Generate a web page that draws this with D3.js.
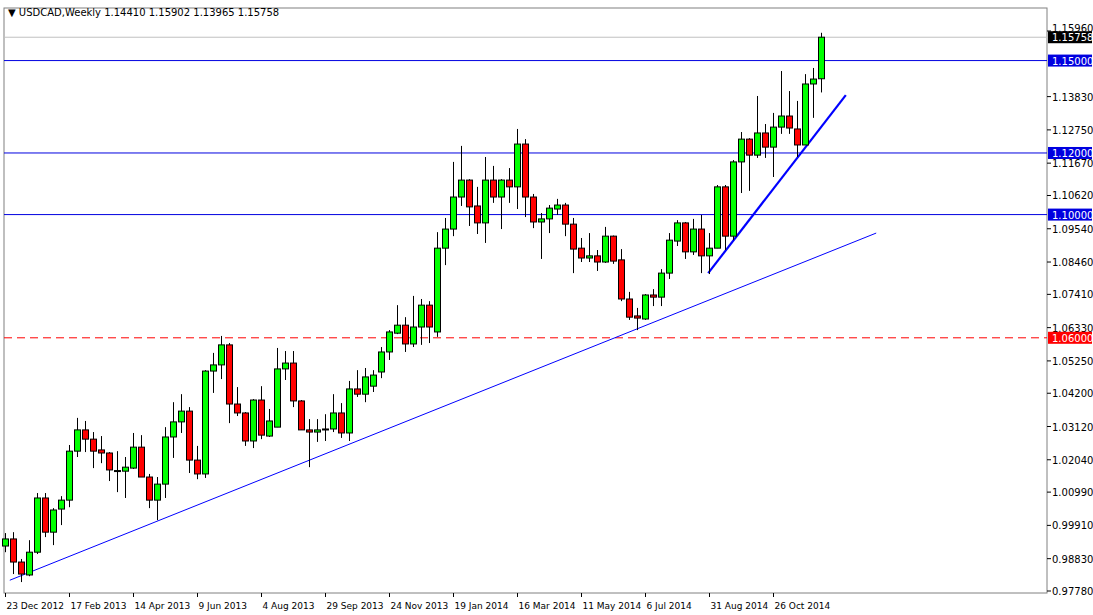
<!DOCTYPE html>
<html><head><meta charset="utf-8">
<script src="https://cdn.jsdelivr.net/npm/d3@7"></script>
<style>body{margin:0;background:#fff}svg{display:block}text{font-family:Tahoma,"DejaVu Sans",sans-serif;font-size:10px}text.d{font-size:9px}</style>
</head><body><svg id="c" width="1093" height="615"></svg>
<script>
const opens=[.9924,.9947,.9872,.9830,.9904,1.0080,.9969,1.0044,1.0073,1.0232,1.0301,1.0271,1.0236,1.0226,1.0166,1.0167,1.0177,1.0245,1.0148,1.0073,1.0125,1.0278,1.0327,1.0362,1.0203,1.0158,1.0492,1.0512,1.0577,1.0385,1.0356,1.0265,1.0398,1.0281,1.0310,1.0499,1.0518,1.0395,1.0301,1.0294,1.0304,1.0304,1.0356,1.0291,1.0434,1.0417,1.0443,1.0489,1.0554,1.0615,1.0641,1.0580,1.0635,1.0706,1.0619,1.0891,1.0953,1.1057,1.1112,1.1028,1.0973,1.1112,1.1057,1.1112,1.1090,1.1229,1.1057,1.0976,1.0986,1.1018,1.1031,1.0969,1.0891,1.0859,1.0866,1.0846,1.0930,1.0853,1.0726,1.0671,1.0661,1.0739,1.0732,1.0810,1.0914,1.0973,1.0879,1.0953,1.0866,1.0891,1.1090,1.0930,1.1171,1.1245,1.1193,1.1265,1.1219,1.1284,1.1320,1.1278,1.1226,1.1424,1.1441];
const highs=[.9966,.9969,.9882,.9943,1.0096,1.0096,1.0047,1.0086,1.0252,1.0340,1.0330,1.0294,1.0281,1.0229,1.0232,1.0213,1.0291,1.0284,1.0158,1.0148,1.0310,1.0391,1.0417,1.0375,1.0249,1.0495,1.0551,1.0606,1.0583,1.0440,1.0359,1.0401,1.0443,1.0369,1.0567,1.0557,1.0557,1.0398,1.0336,1.0336,1.0352,1.0417,1.0388,1.0460,1.0495,1.0502,1.0495,1.0570,1.0625,1.0706,1.0667,1.0736,1.0726,1.0719,1.0943,1.0989,1.1171,1.1223,1.1115,1.1090,1.1187,1.1158,1.1115,1.1151,1.1278,1.1245,1.1067,1.1005,1.1031,1.1051,1.1038,1.0989,1.0924,1.0940,1.0885,1.0960,1.0932,1.0888,1.0749,1.0697,1.0742,1.0758,1.0823,1.0940,1.0982,1.0976,1.0986,1.0999,1.0940,1.1096,1.1096,1.1177,1.1268,1.1248,1.1385,1.1294,1.1330,1.1466,1.1401,1.1369,1.1456,1.1476,1.15902];
const lows=[.9904,.9833,.9807,.9826,.9898,.9953,.9927,.9992,1.0050,1.0213,1.0229,1.0177,1.0193,1.0135,1.0099,1.0080,1.0174,1.0148,1.0047,1.0008,1.0080,1.0210,1.0291,1.0161,1.0141,1.0145,1.0421,1.0466,1.0323,1.0346,1.0249,1.0242,1.0271,1.0278,1.0310,1.0463,1.0375,1.0301,1.0180,1.0262,1.0265,1.0294,1.0275,1.0265,1.0408,1.0391,1.0424,1.0469,1.0528,1.0612,1.0554,1.0570,1.0577,1.0583,1.0603,1.0836,1.0930,1.1028,1.0963,1.0937,1.0908,1.1038,1.0953,1.1038,1.1018,1.0992,1.0956,1.0856,1.0940,1.0999,1.0930,1.0810,1.0846,1.0846,1.0817,1.0843,1.0840,1.0719,1.0658,1.0625,1.0658,1.0703,1.0703,1.0791,1.0898,1.0856,1.0869,1.0810,1.0807,1.0891,1.0885,1.0917,1.1070,1.1077,1.1184,1.1184,1.1122,1.1262,1.1262,1.1187,1.1226,1.1314,1.13965];
const closes=[.9947,.9872,.9833,.9904,1.0080,.9969,1.0041,1.0073,1.0232,1.0301,1.0271,1.0232,1.0226,1.0171,1.0169,1.0180,1.0245,1.0148,1.0073,1.0125,1.0278,1.0327,1.0362,1.0203,1.0158,1.0492,1.0512,1.0577,1.0385,1.0356,1.0265,1.0398,1.0284,1.0330,1.0499,1.0518,1.0395,1.0301,1.0294,1.0301,1.0301,1.0356,1.0291,1.0434,1.0417,1.0473,1.0479,1.0554,1.0619,1.0641,1.0580,1.0635,1.0706,1.0635,1.0891,1.0953,1.1057,1.1112,1.1025,1.0973,1.1112,1.1057,1.1112,1.1090,1.1229,1.1057,1.0976,1.0986,1.1021,1.1031,1.0969,1.0888,1.0859,1.0866,1.0846,1.0930,1.0849,1.0726,1.0667,1.0664,1.0739,1.0732,1.0810,1.0917,1.0973,1.0879,1.0953,1.0866,1.0891,1.1090,1.0930,1.1171,1.1245,1.1193,1.1265,1.1219,1.1284,1.1320,1.1281,1.1226,1.1424,1.1440,1.15758];
const dateLabels=["23 Dec 2012","17 Feb 2013","14 Apr 2013","9 Jun 2013","4 Aug 2013","29 Sep 2013","24 Nov 2013","19 Jan 2014","16 Mar 2014","11 May 2014","6 Jul 2014","31 Aug 2014","26 Oct 2014"];
const dateIdx=[0,8,16,24,32,40,48,56,64,72,80,88,96];
const priceTicks=[1.1596,1.1383,1.1275,1.1167,1.1062,1.0954,1.0846,1.0741,1.0633,1.0525,1.0420,1.0312,1.0204,1.0099,0.9991,0.9883,0.9778];
const levels=[{p:1.15,c:"#0000e0",dash:null},{p:1.12,c:"#0000e0",dash:null},{p:1.10,c:"#0000e0",dash:null},{p:1.06,c:"#ff0000",dash:"8,5"}];
const trendLines=[{a:[0.6,0.9813],b:[108.9,1.0940],w:1},{a:[87.9,1.0810],b:[105.1,1.1388],w:2.2}];
const lastPrice=1.15758;

const svg=d3.select("#c");
const L=4,R=1047,T=8,B=593;
const x=d3.scaleLinear().domain([0,102]).range([5,821]);
const y=d3.scaleLinear().domain([0.9778,1.1596]).range([591,31]);
const fmt=d3.format(".5f");

svg.append("rect").attr("x",L).attr("y",T).attr("width",R-L).attr("height",B-T).attr("fill","#fff").attr("stroke","#808080");

svg.append("line").attr("x1",L).attr("x2",R).attr("y1",y(lastPrice)).attr("y2",y(lastPrice)).attr("stroke","#c0c0c0");
levels.forEach(l=>{svg.append("line").attr("x1",L).attr("x2",R).attr("y1",y(l.p)).attr("y2",y(l.p)).attr("stroke",l.c).attr("stroke-dasharray",l.dash);});

trendLines.forEach(t=>svg.append("line").attr("x1",x(t.a[0])).attr("y1",y(t.a[1])).attr("x2",x(t.b[0])).attr("y2",y(t.b[1])).attr("stroke","#0000ff").attr("stroke-width",t.w));

const data=opens.map((o,i)=>({i,o,h:highs[i],l:lows[i],c:closes[i]}));
const g=svg.append("g");
g.selectAll("line.w").data(data).join("line").attr("x1",d=>Math.round(x(d.i))+0.5).attr("x2",d=>Math.round(x(d.i))+0.5).attr("y1",d=>y(d.h)).attr("y2",d=>y(d.l)).attr("stroke","#000");
g.selectAll("rect").data(data).join("rect").attr("x",d=>Math.round(x(d.i))-2.5).attr("width",6)
 .attr("y",d=>y(Math.max(d.o,d.c))).attr("height",d=>Math.max(1,Math.abs(y(d.o)-y(d.c))))
 .attr("fill",d=>d.c>=d.o?"#00ff00":"#ff0000").attr("stroke","#000");

const ax=svg.append("g");
priceTicks.forEach((p,k)=>{ax.append("line").attr("x1",R).attr("x2",R+4).attr("y1",y(p)).attr("y2",y(p)).attr("stroke","#000");
 if(k>0) ax.append("text").attr("x",R+5).attr("y",y(p)+4).text(fmt(p));});
ax.append("text").attr("x",R+5).attr("y",y(priceTicks[0])+1).text(fmt(priceTicks[0]));
dateIdx.forEach((k,j)=>{const xx=Math.round(x(k))+0.5;ax.append("line").attr("x1",xx).attr("x2",xx).attr("y1",B).attr("y2",B+4).attr("stroke","#000");
 ax.append("text").attr("class","d").attr("x",xx+1).attr("y",609).text(dateLabels[j]);});

function box(p,bg){ax.append("rect").attr("x",R+1).attr("y",y(p)-6).attr("width",44).attr("height",12).attr("fill",bg);
 ax.append("text").attr("x",R+5).attr("y",y(p)+4).attr("fill","#fff").text(fmt(p));}
levels.forEach(l=>box(l.p,l.c));
box(lastPrice,"#000");

svg.append("text").attr("x",8).attr("y",16).text("▼ USDCAD,Weekly  "+[opens[102],highs[102],lows[102],closes[102]].map(fmt).join(" "));
</script></body></html>
